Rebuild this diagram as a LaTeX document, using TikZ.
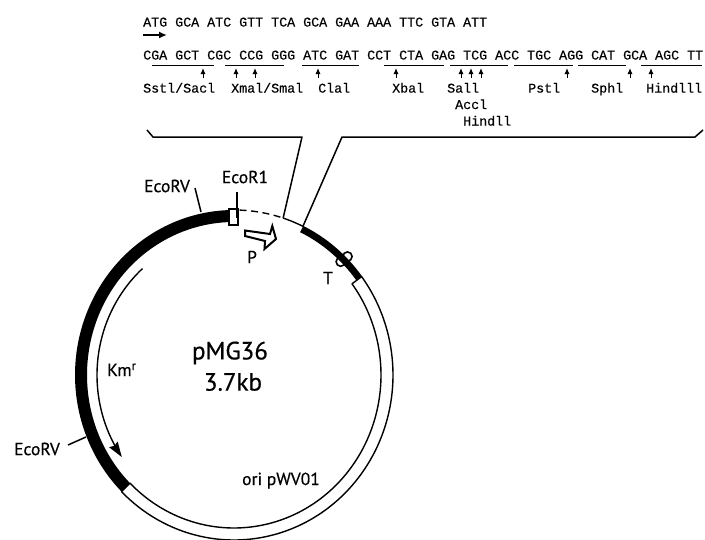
\documentclass[tikz,border=0pt]{standalone}
\usepackage{fontspec}
\newfontfamily\seqfont[FakeBold=0.35]{Liberation Mono}
\newfontfamily\lblfont[FakeBold=0.5]{PT Sans}
\usetikzlibrary{arrows.meta}
\tikzset{
  seqtext/.style={inner sep=0pt,anchor=base west,font=\seqfont\fontsize{13.33}{15}\selectfont},
  sitetext/.style={inner sep=0pt,anchor=base west,font=\seqfont\fontsize{13.33}{15}\selectfont},
  lbl/.style={inner sep=0pt,font=\lblfont\fontsize{17.5}{19}\selectfont},
  biglbl/.style={inner sep=0pt,font=\lblfont\fontsize{25}{28}\selectfont},
  thin line/.style={line width=1.5pt},
  siteline/.style={line width=1.3pt},
  cutarrow/.style={line width=1pt,-{Latex[length=6pt,width=5pt]}},
  arcplot/.style={samples=90,smooth},
}
\begin{document}
\begin{tikzpicture}[x=1pt,y=-1pt]
\useasboundingbox (0,0) rectangle (705,539);
\clip (0,0) rectangle (705,539);
% sequence
\node[seqtext] (seqa) at (143,26.5) {ATG GCA ATC GTT TCA GCA GAA AAA TTC GTA ATT};
\coordinate (sa) at (143,35); \coordinate (sb) at (167,35);
\draw[line width=1.8pt,-{Latex[length=8pt,width=7pt]}] (sa) -- (sb);
\node[seqtext] (seqb) at (143,59.5) {CGA GCT CGC CCG GGG ATC GAT CCT CTA GAG TCG ACC TGC AGG CAT GCA AGC TT};
% underlines
\foreach \a/\b in {152/214,225/284,302/359,384/444,450/508,514/573,578/626,641/702}
  \draw[siteline] (\a,65.7) -- (\b,65.7);
% cut arrows
\foreach \a in {203,236,255,318,396,461,471,481,567,630,651}
  \draw[cutarrow] (\a,77.5) -- (\a,68);
% site names
\node[sitetext] (n1) at (143,92.6) {Sstl/Sacl};
\node[sitetext] (n2) at (231,92.6) {Xmal/Smal};
\node[sitetext] (n3) at (318,92.6) {Clal};
\node[sitetext] (n4) at (392,92.6) {Xbal};
\node[sitetext] (n5) at (447,92.6) {Sall};
\node[sitetext] (n6) at (455,109) {Accl};
\node[sitetext] (n7) at (463,125.5) {Hindll};
\node[sitetext] (n8) at (528,92.6) {Pstl};
\node[sitetext] (n9) at (591,92.6) {Sphl};
\node[sitetext] (n10) at (646,92.6) {Hindlll};
% key points
\coordinate (dashend) at ({234+159*cos(72)},{375-165*sin(72)});
\coordinate (bandstart) at ({234+159*cos(64.3)},{375-165*sin(64.3)});
% bracket
\draw[thin line,line join=round] (147,130) -- (153,137) -- (302,137) -- (dashend);
\draw[thin line,line join=round] (bandstart) -- (342,137) -- (695,137) -- (703,130);
% T terminator circles
\draw[line width=1.6pt,fill=white] (340.7,261.7) circle (4.6);
\draw[line width=1.6pt,fill=white] (347.5,256.5) circle (4.6);
% white ori band
\draw[line width=1.4pt,fill=white,line join=round]
  plot[arcplot,domain=36.6:-135] ({234+159*cos(\x)},{375-165*sin(\x)})
  -- plot[arcplot,domain=-135:36.6] ({234+147*cos(\x)},{375-153*sin(\x)}) -- cycle;
% black Km band
\fill plot[arcplot,domain=90:225] ({234+159*cos(\x)},{375-165*sin(\x)})
  -- plot[arcplot,domain=225:90] ({234+147*cos(\x)},{375-153*sin(\x)}) -- cycle;
% black right band
\fill plot[arcplot,domain=64.3:36.6] ({234+159.5*cos(\x)},{375-165.5*sin(\x)})
  -- plot[arcplot,domain=36.6:64.3] ({234+152.5*cos(\x)},{375-158.5*sin(\x)}) -- cycle;
% dashed and solid outer arcs
\draw[line width=1.4pt,dash pattern=on 7pt off 4.5pt] plot[arcplot,domain=88:72] ({234+159*cos(\x)},{375-165*sin(\x)});
\draw[line width=1.4pt] plot[arcplot,domain=72:64.3] ({234+159*cos(\x)},{375-165*sin(\x)});
% EcoR1 box
\node[draw,fill=white,line width=1.4pt,minimum width=9pt,minimum height=16pt,inner sep=0pt] (box) at (233.5,217) {};
% Km arrow
\draw[line width=1.4pt,-{Stealth[length=15pt,width=10pt,inset=1.5pt]}] plot[arcplot,domain=131.9:215] ({234+137*cos(\x)},{375-143*sin(\x)});
% labels
\node[lbl] (ecor) at (245,177) {EcoR1};
\coordinate (ecorb) at (237,192);
\coordinate (ecorc) at (237,218);
\draw[thin line] (ecorb) -- (ecorc);
\node[lbl] (ecova) at (167,186) {EcoRV};
\coordinate (va) at (195,188); \coordinate (vb) at (201,212);
\draw[thin line] (va) -- (vb);
\node[lbl] (ecovb) at (37,449) {EcoRV};
\coordinate (vc) at (68,445); \coordinate (vd) at (86,437);
\draw[thin line] (vc) -- (vd);
\node[lbl] (p) at (252,257) {P};
\node[lbl] (t) at (328,278) {T};
\node[lbl,anchor=base west] (km) at (107,376) {Km\raisebox{6pt}{\fontsize{12.5}{13}\selectfont r}};
\node[lbl,anchor=base east] (ori) at (320,485) {ori pWV01};
\node[biglbl] (name) at (230,353) {pMG36};
\node[biglbl] (size) at (233,382) {3.7kb};
% promoter arrow
\draw[line width=2pt,line join=miter,fill=white]
  (245,230.5) -- (245,236) -- (265,241) -- (264.5,249) -- (276,239) -- (272.3,226) -- (270,234) -- cycle;
\end{tikzpicture}
\end{document}
